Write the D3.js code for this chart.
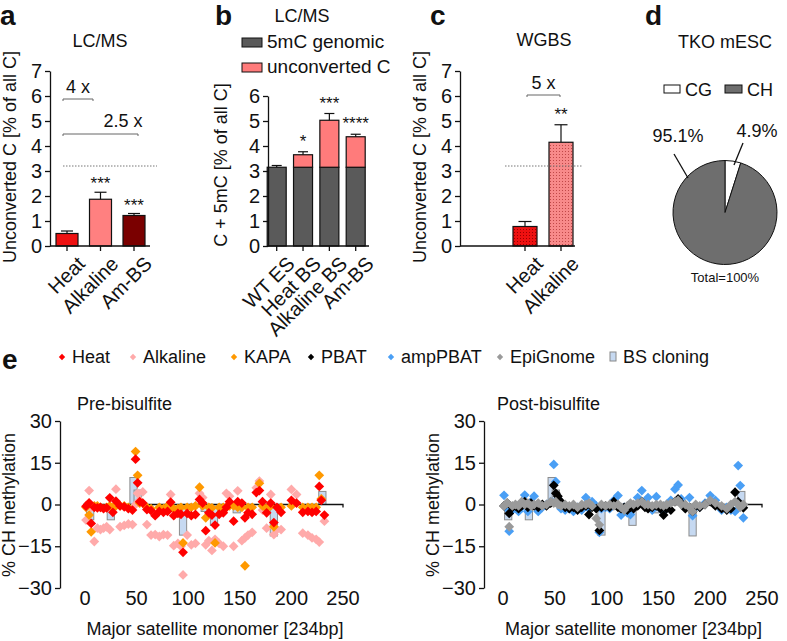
<!DOCTYPE html>
<html><head><meta charset="utf-8">
<script src="https://cdn.jsdelivr.net/npm/d3@7"></script>
<style>body{margin:0;background:#fff}svg{font-family:"Liberation Sans",Arial,Helvetica,sans-serif}</style>
</head><body>
<svg id="fig" width="787" height="641"></svg>
<script>
// ---------- DATA ----------
// panel a
const aCats = ["Heat", "Alkaline", "Am-BS"];
const aVals = [0.5, 1.87, 1.22];
const aErr = [0.6, 2.15, 1.3];
const aStars = ["", "***", "***"];
const aTicks = [0, 1, 2, 3, 4, 5, 6, 7];
// panel b
const bCats = ["WT ES", "Heat BS", "Alkaline BS", "Am-BS"];
const bGenomic = [3.15, 3.15, 3.15, 3.15];
const bUnconv = [0, 0.5, 1.88, 1.22];
const bErr = [3.22, 3.77, 5.3, 4.47];
const bStars = ["", "*", "***", "****"];
const bTicks = [0, 1, 2, 3, 4, 5, 6];
const bLegend = ["5mC genomic", "unconverted C"];
// panel c
const cCats = ["Heat", "Alkaline"];
const cVals = [0.78, 4.15];
const cErr = [0.98, 4.85];
const cStars = ["", "**"];
const refLine = 3.2;
// panel d
const dLabels = ["CG", "CH"];
const dVals = [4.9, 95.1];
const dPctText = ["4.9%", "95.1%"];
// panel e
const eXTicks = [0, 50, 100, 150, 200, 250];
const eYTicks = [-30, -15, 0, 15, 30];
const positions = [1,4,6,9,12,15,18,21,24,27,30,34,38,42,46,49,51,53,56,60,64,68,72,76,80,83,86,90,93,95,99,103,107,111,114,117,120,123,126,130,134,137,140,144,148,152,155,158,162,166,169,172,176,180,183,186,190,195,200,205,211,216,220,224,227,229,232];
const heat = [-0.6,0.6,-6.8,-1,-1.2,-1,-1.5,-1.2,2.4,-2.8, 1.2,-0.5,-0.8,-1.5,-2,16.3,7.8,1,0.5,-1.8, -2.2,-4,-2.5,-2.8,-2.5,0.8,-4,-3.2,-3.5,-17.2, -3.2,-4,-3.6,1.8,0.5,-9.4,-3,-3.8,-7.4,-3.5, -3,-1,1,-6,1,0.5,-4.8,-3,-3.5,4.3, 5,1,-3,0.5,-6.5,-1,-2.8,null,1.5,0.5, -2.8,-2.5,-2.8,-2.5,6.5,1.5,-3.8];
const alkaline = [-5.6,5,-1,-13.3,-8.5,-9,-8.5,-8,-9,-1, 5.5,-8,-7.5,-7,-7.2,0,4,1.5,4.5,-7.2, -11,-10.8,-11.5,-10.8,-11,3.6,-14.8,-14,-15,-25.3, -11,-14.5,-14,4,2.5,-14.5,-13,-16.5,-12.5,-14, -15,4,3,-15,4.9,-13,-12,-11,-10,6, 8.4,-2,-8.5,3.6,-10.8,-9,-9,null,5.4,3.6, -10.3,-11,-12,-12.5,-13.5,2,-6];
const kapa = [-1,-3.8,-9.8,-0.5,-0.5,-1,null,-1,-0.5,-1, -0.5,-0.5,-0.5,-1,null,19,10.5,0.5,null,-1, -1.5,null,-1,-1.5,-0.5,-1,-1.5,-1.5,-1,-13.8, -1,-1,-0.5,6.2,-0.5,-4.8,-1,-1.2,-13.8,-1, -1,-1,-0.5,-0.5,-1,-1,-22,-1,-1,null, 7.6,-0.5,-1.5,-0.5,-8,null,-1,null,-0.5,null, -1,-1,-1,-1,10.5,2,null];
const pbat = [-0.5,0.5,-3.2,-1,-0.5,-1.5,-0.5,1,-1,0.5, -0.5,-1,0,-0.5,0.5,6.9,4,3,1,-1, -1.5,-1,-2,-1,-0.5,-3.6,-1,-1.5,-9.3,-1, -0.5,-1,1,-1,-1.5,-1,-2,-1,-1.5,-0.5, 1,-1,-1.5,-1,-0.5,-1.5,-3.8,-1.5,-2,1, 2,0.5,-1.5,-1,-2.5,-0.5,-1,0,1,-0.5, -1.5,-2,-1.5,4.4,1,-0.5,-1.2];
const ampPbat = [3.3,-1.5,-9.6,-2,-1,-2.5,-1,3.4,-2.5,1, 3,-2.5,-1,0,1,14.4,8.2,2,-1.5,-2, -1.5,-2.5,-1,-2,2.5,-1.5,1,-0.5,-10,-1.5, -1,-1.5,1.5,3.2,-3.8,-1,-3,-3.6,-1,2.5, 5,1,2.5,-2,2.8,-1.5,-2.5,0,1.5,5.5, 7,2,-1,2.5,-4,-1,-0.8,0.5,3.2,1.5, -2,-1,-2,-2.5,14,6.8,-4.8];
const epignome = [-0.5,0.5,-8,-0.5,0,-0.5,1,0,0.5,-0.5, 0,0.5,-0.5,0,1,0.5,1,0,-0.5,0, -0.5,0,-1,0,0,0.5,-0.5,-5,-7.3,0, -0.5,0,-0.5,0,-1,-2,-0.5,0.5,0,0.5, 1,0,0,-0.5,0,0,-0.5,0,0.5,1, 1.5,0,0,-1,-2.5,0,-0.5,0,1.5,0.5, -0.5,-1.5,0,1,0,-1,0];
const bsPos = [5, 25, 47, 51, 62, 95, 116, 125, 147, 183, 230];
const bsVal = [-5.5, -5.5, 9.7, 5.2, -2.4, -11, -2.5, -7.5, -3, -11.3, 4.7];
const eLegend = ["Heat", "Alkaline", "KAPA", "PBAT", "ampPBAT", "EpiGnome", "BS cloning"];

// ---------- DRAW ----------
const svg = d3.select("#fig");
const defs = svg.append("defs");
function dots(id, bg, fg) {
  const p = defs.append("pattern").attr("id", id).attr("width", 3).attr("height", 3).attr("patternUnits", "userSpaceOnUse");
  p.append("rect").attr("width", 3).attr("height", 3).attr("fill", bg);
  p.append("rect").attr("x", 1).attr("y", 1).attr("width", 1).attr("height", 1).attr("fill", fg);
}
dots("pHeat", "#ee1111", "#9a0000");
dots("pAlk", "#f88a8a", "#c04848");

const FS = 18, TFS = 20;
function txt(x, y, s, size, anchor, extra) {
  const t = svg.append("text").attr("x", x).attr("y", y).text(s)
    .attr("font-size", size).attr("text-anchor", anchor || "middle").attr("fill", "#111");
  if (extra) extra(t);
  return t;
}
function styleAxis(g, fs) {
  g.selectAll("path.domain").attr("stroke", "#111").attr("stroke-width", 1.3);
  g.selectAll(".tick line").attr("stroke", "#111").attr("stroke-width", 1.3);
  g.selectAll(".tick text").attr("font-size", fs).attr("fill", "#111").attr("font-family", null);
}
function rotY(x, y, s, size) {
  svg.append("text").attr("transform", `translate(${x},${y}) rotate(-90)`).attr("text-anchor", "middle")
    .attr("font-size", size).attr("fill", "#111").text(s);
}
function xAxisCat(xs, y0, x1, x2, cats) {
  svg.append("line").attr("x1", x1).attr("x2", x2).attr("y1", y0).attr("y2", y0).attr("stroke", "#111").attr("stroke-width", 1.3);
  cats.forEach(c => {
    svg.append("line").attr("x1", xs(c)).attr("x2", xs(c)).attr("y1", y0).attr("y2", y0 + 5).attr("stroke", "#111").attr("stroke-width", 1.3);
    svg.append("text").attr("transform", `translate(${xs(c) + 9},${y0 + 9}) rotate(-45)`)
      .attr("text-anchor", "end").attr("dy", "0.72em").attr("font-size", TFS).attr("fill", "#111").text(c);
  });
}
function errBar(cx, yTop, yErr, cap) {
  svg.append("line").attr("x1", cx).attr("x2", cx).attr("y1", yTop).attr("y2", yErr).attr("stroke", "#111").attr("stroke-width", 1.2);
  svg.append("line").attr("x1", cx - cap / 2).attr("x2", cx + cap / 2).attr("y1", yErr).attr("y2", yErr).attr("stroke", "#111").attr("stroke-width", 1.2);
}
function bracket(x1, x2, y) {
  svg.append("path").attr("d", `M${x1},${y + 2}V${y}H${x2}V${y + 2}`).attr("fill", "none").attr("stroke", "#666").attr("stroke-width", 1);
}
const intFmt = d3.format("d");
const bold = t => t.attr("font-weight", "bold");

// ----- panel a -----
txt(0, 25, "a", 28, "start", bold);
txt(100, 47, "LC/MS", FS);
const aY = d3.scaleLinear().domain([0, 7]).range([246, 71]);
const aX = d3.scalePoint().domain(aCats).range([67, 134]);
const aCol = ["#ee1111", "#ff8080", "#7a0000"];
svg.append("line").attr("x1", 63).attr("x2", 157).attr("y1", aY(refLine)).attr("y2", aY(refLine)).attr("stroke", "#777").attr("stroke-dasharray", "1.5,1.5");
aCats.forEach((c, i) => {
  svg.append("rect").attr("x", aX(c) - 11).attr("y", aY(aVals[i])).attr("width", 22).attr("height", aY(0) - aY(aVals[i]))
    .attr("fill", aCol[i]).attr("stroke", "#111").attr("stroke-width", 1.2);
  errBar(aX(c), aY(aVals[i]), aY(aErr[i]), 12);
  if (aStars[i]) txt(aX(c), aY(aErr[i]) - 3, aStars[i], 17);
});
const aAx = svg.append("g").attr("transform", "translate(50,0)").call(d3.axisLeft(aY).tickValues(aTicks).tickFormat(intFmt).tickSize(5).tickSizeOuter(0).tickPadding(3));
styleAxis(aAx, 20);
xAxisCat(aX, 246, 50, 150, aCats);
rotY(16, 157, "Unconverted C [% of all C]", FS);
bracket(63, 93, 99); txt(78, 93, "4 x", FS);
bracket(63, 138, 134); txt(123, 127, "2.5 x", FS);

// ----- panel b -----
txt(215, 25, "b", 28, "start", bold);
txt(302, 22, "LC/MS", FS);
const bCol = ["#5a5a5a", "#ff7b7b"];
bLegend.forEach((l, i) => {
  svg.append("rect").attr("x", 242).attr("y", 38 + i * 25).attr("width", 20).attr("height", 9).attr("fill", bCol[i]).attr("stroke", "#111");
  txt(267, 48 + i * 25, l, 19, "start");
});
const bY = d3.scaleLinear().domain([0, 6]).range([246, 96]);
const bX = d3.scalePoint().domain(bCats).range([276.7, 355.7]);
bCats.forEach((c, i) => {
  const x0 = bX(c) - 9.5;
  svg.append("rect").attr("x", x0).attr("y", bY(bGenomic[i])).attr("width", 19).attr("height", bY(0) - bY(bGenomic[i]))
    .attr("fill", bCol[0]).attr("stroke", "#111").attr("stroke-width", 1.2);
  const top = bGenomic[i] + bUnconv[i];
  if (bUnconv[i] > 0) svg.append("rect").attr("x", x0).attr("y", bY(top)).attr("width", 19).attr("height", bY(bGenomic[i]) - bY(top))
    .attr("fill", bCol[1]).attr("stroke", "#111").attr("stroke-width", 1.2);
  errBar(bX(c), bY(top), bY(bErr[i]), 10);
  if (bStars[i]) txt(bX(c), bY(bErr[i]) - 5, bStars[i], 17);
});
const bAx = svg.append("g").attr("transform", "translate(268,0)").call(d3.axisLeft(bY).tickValues(bTicks).tickFormat(intFmt).tickSize(5).tickSizeOuter(0).tickPadding(3));
styleAxis(bAx, 20);
xAxisCat(bX, 246, 268, 369, bCats);
rotY(227, 165, "C + 5mC [% of all C]", FS);

// ----- panel c -----
txt(430, 25, "c", 28, "start", bold);
txt(544, 46, "WGBS", FS);
const cY = d3.scaleLinear().domain([0, 7]).range([246, 71]);
const cX = d3.scalePoint().domain(cCats).range([525, 561]);
const cFill = ["url(#pHeat)", "url(#pAlk)"];
cCats.forEach((c, i) => {
  svg.append("rect").attr("x", cX(c) - 12).attr("y", cY(cVals[i])).attr("width", 24).attr("height", cY(0) - cY(cVals[i]))
    .attr("fill", cFill[i]).attr("stroke", "#111").attr("stroke-width", 1.2);
  errBar(cX(c), cY(cVals[i]), cY(cErr[i]), 13);
  if (cStars[i]) txt(cX(c), cY(cErr[i]) - 5, cStars[i], 17);
});
svg.append("line").attr("x1", 505).attr("x2", 583).attr("y1", cY(refLine)).attr("y2", cY(refLine)).attr("stroke", "#777").attr("stroke-dasharray", "1.5,1.5");
const cAx = svg.append("g").attr("transform", "translate(460,0)").call(d3.axisLeft(cY).tickValues(aTicks).tickFormat(intFmt).tickSize(5).tickSizeOuter(0).tickPadding(3));
styleAxis(cAx, 20);
xAxisCat(cX, 246, 460, 575, cCats);
rotY(426, 157, "Unconverted C [% of all C]", FS);
bracket(527, 560, 95); txt(543.5, 89, "5 x", FS);

// ----- panel d -----
txt(645, 25, "d", 28, "start", bold);
txt(725, 48, "TKO mESC", FS);
const dCol = ["#ffffff", "#6e6e6e"];
svg.append("rect").attr("x", 664).attr("y", 85).attr("width", 16).attr("height", 8).attr("fill", dCol[0]).attr("stroke", "#111");
txt(685, 96, dLabels[0], FS, "start");
svg.append("rect").attr("x", 725).attr("y", 85).attr("width", 17).attr("height", 8).attr("fill", dCol[1]).attr("stroke", "#111");
txt(747, 96, dLabels[1], FS, "start");
const pie = d3.pie().sort(null)(dVals);
const arc = d3.arc().innerRadius(0).outerRadius(52);
const pg = svg.append("g").attr("transform", "translate(725,212.5)");
pg.selectAll("path").data(pie).join("path").attr("d", arc).attr("fill", (d, i) => dCol[i]).attr("stroke", "#111").attr("stroke-width", 1);
svg.append("line").attr("x1", 743).attr("y1", 143).attr("x2", 734).attr("y2", 165).attr("stroke", "#111").attr("stroke-width", 1.3);
svg.append("line").attr("x1", 674).attr("y1", 154).attr("x2", 688).attr("y2", 178).attr("stroke", "#111").attr("stroke-width", 1.3);
txt(757, 137, dPctText[0], FS);
txt(678, 142, dPctText[1], FS);
txt(725, 282, "Total=100%", 13);

// ----- panel e -----
txt(2, 369, "e", 28, "start", bold);
const eCol = ["#ff0000", "#ffaaaa", "#ff9900", "#000000", "#4a9ff5", "#9a9a9a"];
const legX = [62, 133, 234, 311, 391, 500];
const diamond = s => d3.symbol(d3.symbolSquare, s)();
eLegend.forEach((l, i) => {
  if (i < 6) svg.append("path").attr("d", diamond(20)).attr("transform", `translate(${legX[i]},357) rotate(45)`).attr("fill", eCol[i]);
  else svg.append("rect").attr("x", 610).attr("y", 352).attr("width", 6).attr("height", 9).attr("fill", "#c6d9f1").attr("stroke", "#888");
  txt((i < 6 ? legX[i] : 613) + 10, 363, l, FS, "start");
});

function scatter(x0, x1, yAxisX, title, titleX, series, cols) {
  const xs = d3.scaleLinear().domain([0, 250]).range([x0, x1]);
  const ys = d3.scaleLinear().domain([-30, 30]).range([588, 421]);
  txt(titleX, 410, title, FS, "start");
  bsPos.forEach((p, i) => {
    const y1 = ys(Math.max(0, bsVal[i])), y2 = ys(Math.min(0, bsVal[i]));
    svg.append("rect").attr("x", xs(p - 3.5)).attr("width", xs(7) - xs(0)).attr("y", y1).attr("height", y2 - y1)
      .attr("fill", "#c6d9f1").attr("stroke", "#8c8c8c").attr("stroke-width", 1);
  });
  svg.append("path").attr("d", `M${xs(0) - 2},${ys(0)}H${xs(250)}V${ys(0) + 3}`).attr("fill", "none").attr("stroke", "#111").attr("stroke-width", 1.3);
  series.forEach((vals, si) => {
    positions.forEach((p, i) => {
      if (vals[i] === null) return;
      svg.append("path").attr("d", diamond(48)).attr("transform", `translate(${xs(p)},${ys(vals[i])}) rotate(45)`).attr("fill", cols[si]);
    });
  });
  const ax = svg.append("g").attr("transform", `translate(${yAxisX},0)`).call(d3.axisLeft(ys).tickValues(eYTicks).tickFormat(intFmt).tickSize(5).tickSizeOuter(0).tickPadding(3));
  styleAxis(ax, 20);
  eXTicks.forEach(t => txt(xs(t), 605, t, 20));
  txt((x0 + x1) / 2 + 1, 635, "Major satellite monomer [234bp]", FS);
  rotY(yAxisX - 45, 505, "% CH methylation", FS);
}
scatter(85, 343, 60, "Pre-bisulfite", 77, [alkaline, kapa, heat], [eCol[1], eCol[2], eCol[0]]);
scatter(503, 762, 484, "Post-bisulfite", 497, [ampPbat, pbat, epignome], [eCol[4], eCol[3], eCol[5]]);
</script>
</body></html>
